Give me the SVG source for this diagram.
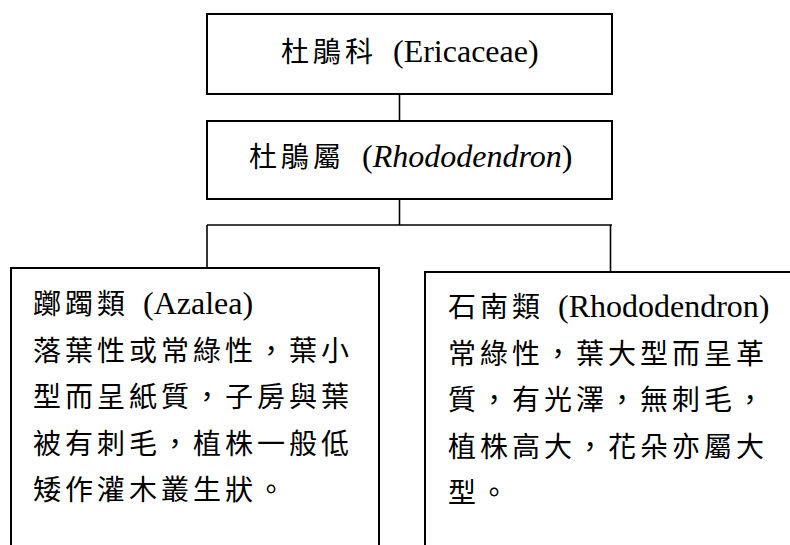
<svg xmlns="http://www.w3.org/2000/svg" width="790" height="545" viewBox="0 0 790 545">
<style>
.box{fill:#fff;stroke:#000;stroke-width:2}
.conn{fill:none;stroke:#000;stroke-width:1.6}
.cjk{font-family:"Noto Sans CJK TC","Noto Sans CJK SC",sans-serif;font-size:28px;letter-spacing:4px;fill:#000}
.lat{font-family:"Liberation Serif","Times New Roman",serif;font-size:32px;letter-spacing:0;fill:#000}
.it{font-style:italic}
</style>
<rect x="0" y="0" width="790" height="545" fill="#fff"/>
<g id="connectors">
<line class="conn" x1="399.5" y1="94" x2="399.5" y2="121"/>
<line class="conn" x1="399.5" y1="199" x2="399.5" y2="225"/>
<line class="conn" x1="207" y1="225" x2="612" y2="225" stroke-width="2"/>
<line class="conn" x1="207" y1="225" x2="207" y2="268"/>
<line class="conn" x1="610.5" y1="225" x2="610.5" y2="272"/>
</g>
<g id="family">
<rect class="box" x="207" y="14" width="405" height="80"/>
<text y="62"><tspan class="cjk" x="281">杜鵑科</tspan><tspan class="lat" x="393">(Ericaceae)</tspan></text>
</g>
<g id="genus">
<rect class="box" x="207" y="121" width="405" height="78"/>
<text y="167"><tspan class="cjk" x="249">杜鵑屬</tspan><tspan class="lat" x="362">(</tspan><tspan class="lat it">Rhododendron</tspan><tspan class="lat">)</tspan></text>
</g>
<g id="azalea">
<rect class="box" x="11" y="268" width="368" height="320"/>
<text y="314"><tspan class="cjk" x="33">躑躅類</tspan><tspan class="lat" x="143">(Azalea)</tspan></text>
<text class="cjk" x="33" y="360.5">落葉性或常綠性，葉小</text>
<text class="cjk" x="33" y="407">型而呈紙質，子房與葉</text>
<text class="cjk" x="33" y="453.5">被有刺毛，植株一般低</text>
<text class="cjk" x="33" y="500">矮作灌木叢生狀。</text>
</g>
<g id="rhododendron">
<rect class="box" x="425" y="272" width="400" height="320"/>
<text y="317"><tspan class="cjk" x="448">石南類</tspan><tspan class="lat" x="558">(Rhododendron)</tspan></text>
<text class="cjk" x="448" y="363.5">常綠性，葉大型而呈革</text>
<text class="cjk" x="448" y="410">質，有光澤，無刺毛，</text>
<text class="cjk" x="448" y="456.5">植株高大，花朵亦屬大</text>
<text class="cjk" x="448" y="503">型。</text>
</g>
</svg>
